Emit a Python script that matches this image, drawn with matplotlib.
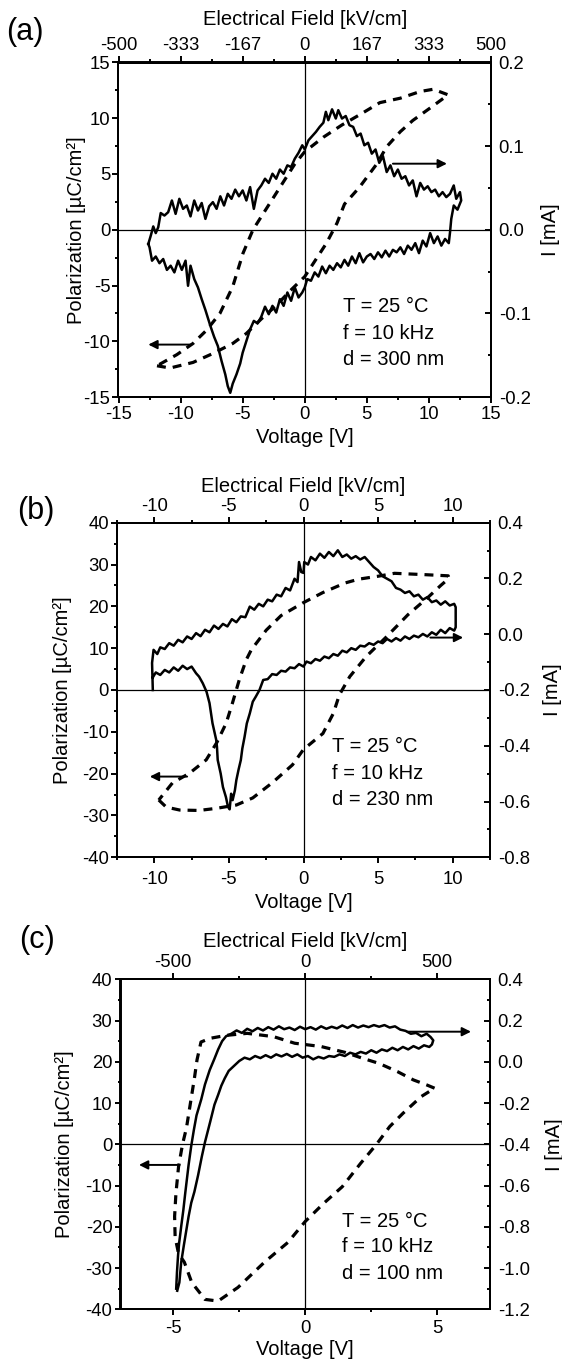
import matplotlib
matplotlib.use("Agg")
import matplotlib.pyplot as plt
from matplotlib.ticker import MultipleLocator, FixedLocator, FuncFormatter

plt.rcParams['font.family'] = ['Liberation Sans', 'DejaVu Sans']
plt.rcParams['axes.unicode_minus'] = False

FIG_W, FIG_H = 562, 1360

# ---------------- panel (a): d = 300 nm ----------------
A_P_V = [-11.9, -10.85, -9.0, -7.4, -5.8, -4.7, -3.5, -2.3, -1.2, 0.0,
         0.7, 1.75, 2.6, 3.2, 4.4, 5.8, 6.6, 7.7, 8.7, 10.2,
         11.55, 10.35, 9.3, 7.7, 6.05, 4.4, 3.0, 1.5, 0.0, -0.8,
         -2.0, -3.2, -4.17, -4.97, -5.8, -6.83, -7.9, -9.0, -10.3, -11.9]
A_P = [-12.2, -12.4, -11.9, -11.1, -10.2, -9.3, -8.0, -6.8, -5.5, -4.2,
       -3.0, -1.2, 0.6, 2.3, 3.8, 5.9, 7.45, 8.8, 9.8, 11.0,
       12.1, 12.6, 12.4, 11.8, 11.4, 10.3, 9.4, 8.3, 7.0, 5.9,
       3.8, 1.7, 0.0, -2.1, -5.1, -7.5, -9.0, -10.2, -11.2, -12.2]

A_I_V = [-12.6, -12.4, -12.2, -12.0, -11.8, -11.6, -11.3, -11.0, -10.7, -10.4,
         -10.1, -9.8, -9.5, -9.2, -8.9, -8.6, -8.3, -8.0, -7.7, -7.4,
         -7.1, -6.8, -6.5, -6.2, -5.9, -5.6, -5.3, -5.0, -4.7, -4.4,
         -4.1, -3.8, -3.5, -3.2, -2.9, -2.6, -2.3, -2.0, -1.7, -1.4,
         -1.1, -0.8, -0.5, -0.2, 0.0, 0.3, 0.6, 0.9, 1.2, 1.5,
         1.7, 1.9, 2.2, 2.5, 2.7, 3.0, 3.3, 3.6, 3.9, 4.2,
         4.5, 4.8, 5.1, 5.4, 5.7, 6.0, 6.3, 6.6, 6.9, 7.2,
         7.5, 7.8, 8.1, 8.4, 8.7, 9.0, 9.3, 9.6, 9.9, 10.2,
         10.5, 10.8, 11.1, 11.4, 11.7, 12.0, 12.2, 12.5, 12.6, 12.3,
         12.0, 11.8, 11.7, 11.6,
         11.3, 11.0, 10.7, 10.4, 10.1, 9.8, 9.5, 9.2, 8.9, 8.6,
         8.3, 8.0, 7.7, 7.4, 7.1, 6.8, 6.5, 6.2, 5.9, 5.6,
         5.3, 5.0, 4.7, 4.4, 4.1, 3.8, 3.5, 3.2, 2.9, 2.6,
         2.3, 2.0, 1.7, 1.4, 1.1, 0.8, 0.5, 0.2, 0.0, -0.2,
         -0.5, -0.8, -1.1, -1.4, -1.7, -2.0, -2.3, -2.6, -2.9, -3.2,
         -3.5, -3.8, -4.1, -4.4, -4.7, -5.0, -5.2, -5.5, -5.8, -6.0,
         -6.2, -6.4, -6.7, -7.0, -7.3, -7.6, -8.0, -8.3, -8.6, -8.9,
         -9.2, -9.4, -9.6, -9.9, -10.2, -10.5, -10.8, -11.1, -11.4, -11.7,
         -12.0, -12.3, -12.5, -12.6]
A_I = [-0.017, -0.007, 0.004, -0.004, 0.003, 0.020, 0.017, 0.021, 0.035, 0.019,
       0.037, 0.025, 0.029, 0.016, 0.035, 0.023, 0.032, 0.013, 0.028, 0.033,
       0.025, 0.040, 0.029, 0.043, 0.037, 0.048, 0.040, 0.047, 0.035, 0.051,
       0.025, 0.047, 0.053, 0.061, 0.056, 0.067, 0.061, 0.072, 0.067, 0.077,
       0.075, 0.085, 0.092, 0.101, 0.096, 0.107, 0.112, 0.117, 0.123, 0.128,
       0.141, 0.131, 0.144, 0.133, 0.143, 0.133, 0.136, 0.125, 0.123, 0.112,
       0.115, 0.101, 0.104, 0.091, 0.096, 0.080, 0.088, 0.069, 0.077, 0.064,
       0.072, 0.061, 0.064, 0.053, 0.059, 0.040, 0.056, 0.048, 0.052, 0.045,
       0.048, 0.040, 0.045, 0.039, 0.043, 0.053, 0.037, 0.045, 0.035, 0.024,
       0.029, 0.013, -0.003, -0.016,
       -0.011, -0.019, -0.008, -0.016, -0.004, -0.020, -0.013, -0.028, -0.016, -0.024,
       -0.019, -0.029, -0.021, -0.027, -0.024, -0.032, -0.025, -0.033, -0.027, -0.035,
       -0.029, -0.032, -0.039, -0.028, -0.040, -0.032, -0.043, -0.036, -0.045, -0.040,
       -0.048, -0.043, -0.052, -0.044, -0.056, -0.051, -0.061, -0.059, -0.069, -0.075,
       -0.081, -0.069, -0.085, -0.075, -0.091, -0.083, -0.099, -0.091, -0.101, -0.092,
       -0.104, -0.112, -0.109, -0.119, -0.133, -0.147, -0.160, -0.173, -0.184, -0.195,
       -0.187, -0.173, -0.157, -0.139, -0.128, -0.115, -0.096, -0.083, -0.069, -0.059,
       -0.043, -0.067, -0.037, -0.048, -0.037, -0.051, -0.043, -0.048, -0.035, -0.040,
       -0.032, -0.037, -0.021, -0.017]
A_TOP_POS = [-15, -10, -5, 0, 5, 10, 15]
A_TOP_LABELS = ['-500', '-333', '-167', '0', '167', '333', '500']

# ---------------- panel (b): d = 230 nm ----------------
B_P_V = [-9.7, -9.2, -8.3, -7.0, -5.85, -4.5, -3.4, -2.1, -0.74, 0.0,
         1.3, 2.0, 2.4, 3.1, 4.2, 5.5, 7.0, 8.3, 9.2, 9.75,
         9.7, 8.0, 6.1, 5.0, 3.7, 2.8, 1.3, 0.0, -1.5, -2.5,
         -3.5, -3.84, -4.3, -4.76, -5.18, -5.8, -6.52, -7.64, -8.78, -9.7]
B_P = [-26.3, -28.0, -28.7, -28.8, -28.3, -27.5, -25.8, -22.2, -17.9, -14.2,
       -10.4, -5.6, -1.2, 3.2, 8.0, 12.5, 18.0, 22.0, 25.0, 26.7,
       27.3, 27.6, 27.9, 27.2, 26.5, 25.6, 23.3, 20.9, 17.8, 14.3,
       9.6, 7.2, 2.5, -3.1, -7.9, -12.5, -16.7, -19.9, -22.2, -26.3]

B_I_V = [-10.1, -10.15, -10.05, -9.8, -9.6, -9.3, -9.0, -8.7, -8.4, -8.1,
         -7.8, -7.5, -7.2, -6.9, -6.6, -6.3, -6.0, -5.7, -5.4, -5.1,
         -4.8, -4.5, -4.2, -3.9, -3.6, -3.3, -3.0, -2.7, -2.4, -2.1,
         -1.8, -1.5, -1.2, -0.9, -0.6, -0.4, -0.3, -0.15, 0.0, 0.05,
         0.3, 0.5, 0.8, 1.1, 1.4, 1.7, 2.0, 2.3, 2.6, 2.9,
         3.2, 3.5, 3.8, 4.1, 4.4, 4.7, 5.0, 5.3, 5.6, 5.9,
         6.2, 6.5, 6.8, 7.1, 7.4, 7.7, 8.0, 8.3, 8.6, 8.9,
         9.2, 9.5, 9.8, 10.1, 10.2, 10.2, 10.1,
         9.8, 9.5, 9.2, 8.9, 8.6, 8.3, 8.0, 7.7, 7.4, 7.1,
         6.8, 6.5, 6.2, 5.9, 5.6, 5.3, 5.0, 4.7, 4.4, 4.1,
         3.8, 3.5, 3.2, 2.9, 2.6, 2.3, 2.0, 1.7, 1.4, 1.1,
         0.8, 0.5, 0.2, 0.0, -0.3, -0.6, -0.9, -1.2, -1.5, -1.8,
         -2.1, -2.4, -2.7, -2.95, -3.2, -3.4, -3.6, -3.8, -3.95, -4.1,
         -4.2, -4.35, -4.5, -4.6, -4.75, -4.85, -4.95, -5.06, -5.2, -5.4,
         -5.55, -5.75, -5.8, -5.85, -6.0, -6.1, -6.3, -6.5, -6.75, -7.0,
         -7.2, -7.5, -7.8, -8.1, -8.4, -8.7, -9.0, -9.3, -9.6, -9.9, -10.1]
B_I = [-0.200, -0.103, -0.056, -0.071, -0.047, -0.053, -0.032, -0.041, -0.020, -0.029,
       -0.008, -0.017, 0.004, -0.007, 0.016, 0.007, 0.031, 0.019, 0.037, 0.028,
       0.054, 0.043, 0.064, 0.061, 0.099, 0.088, 0.109, 0.100, 0.124, 0.118,
       0.142, 0.136, 0.166, 0.157, 0.199, 0.187, 0.259, 0.223, 0.220, 0.259,
       0.250, 0.277, 0.265, 0.289, 0.274, 0.295, 0.280, 0.301, 0.277, 0.286,
       0.271, 0.280, 0.268, 0.277, 0.259, 0.241, 0.229, 0.208, 0.199, 0.190,
       0.166, 0.160, 0.148, 0.154, 0.136, 0.142, 0.124, 0.133, 0.115, 0.121,
       0.106, 0.118, 0.103, 0.109, 0.097, 0.025, 0.013,
       0.022, 0.004, 0.016, -0.002, 0.007, -0.008, 0.001, -0.011, -0.005, -0.017,
       -0.008, -0.023, -0.014, -0.026, -0.017, -0.032, -0.026, -0.038, -0.032, -0.044,
       -0.041, -0.056, -0.050, -0.065, -0.059, -0.077, -0.071, -0.086, -0.080, -0.095,
       -0.089, -0.104, -0.098, -0.116, -0.107, -0.122, -0.119, -0.134, -0.131, -0.146,
       -0.143, -0.161, -0.164, -0.200, -0.224, -0.242, -0.284, -0.320, -0.368, -0.410,
       -0.451, -0.485, -0.523, -0.560, -0.595, -0.572, -0.628, -0.619, -0.584, -0.548,
       -0.500, -0.451, -0.404, -0.379, -0.344, -0.319, -0.247, -0.206, -0.176, -0.152,
       -0.140, -0.116, -0.125, -0.113, -0.131, -0.119, -0.137, -0.128, -0.146, -0.137, -0.155]
B_TOP_POS = [-10, -5, 0, 5, 10]
B_TOP_LABELS = ['-10', '-5', '0', '5', '10']

# ---------------- panel (c): d = 100 nm ----------------
C_P_V = [4.9, 4.6, 4.1, 3.5, 2.8, 2.2, 1.5, 0.6, -0.4, -1.2,
         -2.2, -3.0, -3.6, -3.95, -4.1, -4.2, -4.35, -4.5, -4.65, -4.8,
         -4.9, -4.95, -4.93, -4.8,
         -4.58, -4.3, -3.8, -3.3, -2.55, -1.55, -0.66, 0.0, 0.7, 1.4,
         2.1, 2.7, 3.2, 3.7, 4.4, 4.9]
C_P = [13.6, 14.4, 15.6, 17.6, 19.6, 20.8, 22.3, 23.7, 24.5, 26.1,
       26.9, 26.4, 25.7, 24.8, 20.5, 16.0, 10.0, 4.0, 0.0, -5.4,
       -11.9, -17.5, -22.5, -26.5,
       -28.6, -33.5, -37.6, -38.0, -34.7, -28.6, -23.8, -18.7, -14.3, -10.3,
       -4.6, 0.0, 4.3, 7.5, 11.6, 13.6]

C_I_V = [-4.89, -4.86, -4.82, -4.78, -4.74, -4.70, -4.62, -4.55, -4.50, -4.42,
         -4.32, -4.22, -4.12, -3.94, -3.80, -3.62, -3.45, -3.30, -3.15, -3.0,
         -2.8, -2.6, -2.4, -2.2, -2.0, -1.8, -1.6, -1.4, -1.2, -1.0,
         -0.8, -0.6, -0.4, -0.2, 0.0, 0.2, 0.4, 0.6, 0.8, 1.0,
         1.2, 1.4, 1.6, 1.8, 2.0, 2.2, 2.4, 2.6, 2.8, 3.0,
         3.2, 3.4, 3.6, 3.8, 4.0, 4.2, 4.4, 4.6, 4.75, 4.85,
         4.8, 4.7,
         4.5, 4.3, 4.1, 3.9, 3.7, 3.5, 3.3, 3.1, 2.9, 2.7,
         2.5, 2.3, 2.1, 1.9, 1.7, 1.5, 1.3, 1.1, 0.9, 0.7,
         0.5, 0.3, 0.1, -0.1, -0.3, -0.5, -0.7, -0.9, -1.1, -1.3,
         -1.5, -1.7, -1.9, -2.1, -2.3, -2.5, -2.7, -2.9, -3.05, -3.18,
         -3.3, -3.44, -3.6, -3.72, -3.8, -3.92, -4.06, -4.2, -4.32, -4.42,
         -4.5, -4.6, -4.7, -4.77, -4.85]
C_I = [-1.100, -1.020, -0.940, -0.880, -0.840, -0.798, -0.720, -0.640, -0.586, -0.500,
       -0.408, -0.330, -0.260, -0.182, -0.110, -0.040, 0.012, 0.060, 0.100, 0.124,
       0.136, 0.152, 0.140, 0.160, 0.148, 0.164, 0.152, 0.168, 0.156, 0.172,
       0.158, 0.166, 0.154, 0.170, 0.158, 0.168, 0.156, 0.172, 0.160, 0.170,
       0.162, 0.176, 0.164, 0.178, 0.166, 0.176, 0.168, 0.178, 0.170, 0.178,
       0.166, 0.172, 0.156, 0.150, 0.136, 0.140, 0.124, 0.136, 0.120, 0.104,
       0.084, 0.072,
       0.080, 0.064, 0.076, 0.060, 0.072, 0.056, 0.068, 0.052, 0.060, 0.044,
       0.056, 0.040, 0.048, 0.036, 0.044, 0.028, 0.036, 0.024, 0.028, 0.016,
       0.024, 0.012, 0.028, 0.020, 0.036, 0.024, 0.038, 0.026, 0.036, 0.020,
       0.032, 0.018, 0.028, 0.012, 0.020, 0.004, -0.020, -0.044, -0.080, -0.116,
       -0.160, -0.208, -0.290, -0.350, -0.390, -0.460, -0.550, -0.630, -0.684, -0.750,
       -0.812, -0.890, -0.972, -1.070, -1.110]
C_TOP_POS = [-5, 0, 5]
C_TOP_LABELS = ['-500', '0', '500']

NOTE_LINES = ['T = 25 °C', 'f = 10 kHz']

TICK_FS = 13.3
LABEL_FS = 14.5
LW_AX = 1.4


def fmt1(v, _pos):
    return f"{round(v, 1) + 0:.1f}"


def panel(box, tag, tag_xy, pv, p, iv, cur, xlim, xstep, ylim, ystep, ilim, istep,
          top_pos, top_labels, d_text, note_xy, larrow, rarrow, lab, xpad):
    # box = (left, top, right, bottom) in pixels of the 562x1360 canvas
    l, t, r, b = box
    ax = fig.add_axes([l / FIG_W, 1 - b / FIG_H, (r - l) / FIG_W, (b - t) / FIG_H])
    ax.set_xlim(*xlim)
    ax.set_ylim(*ylim)
    ax.axhline(0, color='k', lw=0.9, zorder=1)
    ax.axvline(0, color='k', lw=0.9, zorder=1)
    ax.plot(pv, p, color='k', lw=2.3, dashes=(2.8, 2.2), zorder=3)

    ax.xaxis.set_major_locator(MultipleLocator(xstep))
    ax.xaxis.set_minor_locator(MultipleLocator(xstep / 2))
    ax.yaxis.set_major_locator(MultipleLocator(ystep))
    ax.yaxis.set_minor_locator(MultipleLocator(ystep / 2))
    ax.tick_params(which='both', direction='out', top=False, right=False,
                   width=LW_AX, labelsize=TICK_FS)
    ax.tick_params(which='major', length=4.3)
    ax.tick_params(which='minor', length=2.2)
    ax.tick_params(axis='x', pad=xpad)
    ax.tick_params(axis='y', pad=1.5)
    for s in ax.spines.values():
        s.set_linewidth(LW_AX)

    sec = ax.secondary_xaxis('top')
    sec.xaxis.set_major_locator(FixedLocator(top_pos))
    sec.set_xticklabels(top_labels)
    sec.xaxis.set_minor_locator(MultipleLocator(xstep / 2))
    sec.tick_params(which='both', direction='out', width=LW_AX, labelsize=TICK_FS, pad=1.5)
    sec.tick_params(which='major', length=4.3)
    sec.tick_params(which='minor', length=2.2)
    sec.spines['top'].set_linewidth(LW_AX)
    sec.set_xlabel('Electrical Field [kV/cm]', fontsize=LABEL_FS)
    sec.xaxis.set_label_coords(0.5, lab[3], transform=ax.transAxes)

    ax2 = ax.twinx()
    ax2.set_ylim(*ilim)
    ax2.plot(iv, cur, color='k', lw=1.8, zorder=3)
    ax2.yaxis.set_major_locator(MultipleLocator(istep))
    ax2.yaxis.set_minor_locator(MultipleLocator(istep / 2))
    ax2.yaxis.set_major_formatter(FuncFormatter(fmt1))
    ax2.tick_params(which='both', direction='in', width=LW_AX, labelsize=TICK_FS, pad=5.5)
    ax2.tick_params(which='major', length=4.3)
    ax2.tick_params(which='minor', length=2.2)
    for s in ax2.spines.values():
        s.set_linewidth(LW_AX)

    ax.set_xlabel('Voltage [V]', fontsize=LABEL_FS)
    ax.set_ylabel('Polarization [µC/cm²]', fontsize=LABEL_FS)
    ax2.set_ylabel('I [mA]', fontsize=LABEL_FS)
    ax.xaxis.set_label_coords(0.5, lab[2], transform=ax.transAxes)
    ax.yaxis.set_label_coords(lab[0], 0.5, transform=ax.transAxes)
    ax2.yaxis.set_label_coords(lab[1], 0.5, transform=ax.transAxes)

    arrow = dict(arrowstyle='-|>', color='k', lw=1.4, mutation_scale=13,
                 shrinkA=0, shrinkB=0)
    ax.annotate('', xy=(larrow[1], larrow[2]), xytext=(larrow[0], larrow[2]),
                arrowprops=arrow, zorder=4)
    ax2.annotate('', xy=(rarrow[1], rarrow[2]), xytext=(rarrow[0], rarrow[2]),
                 arrowprops=arrow, zorder=4)

    for txt, yy in zip(NOTE_LINES + [d_text], note_xy[1]):
        ax.text(note_xy[0], yy, txt, fontsize=LABEL_FS, va='center', ha='left')

    fig.text(tag_xy[0] / FIG_W, 1 - tag_xy[1] / FIG_H, tag, fontsize=22,
             ha='left', va='center')
    return ax, ax2


fig = plt.figure(figsize=(FIG_W / 100, FIG_H / 100), dpi=100)

panel((118.5, 62.5, 491, 397), '(a)', (6, 32),
      A_P_V, A_P, A_I_V, A_I, (-15, 15), 5, (-15, 15), 5, (-0.2, 0.2), 0.1,
      A_TOP_POS, A_TOP_LABELS, 'd = 300 nm', (3.06, [-6.9, -9.3, -11.6]),
      (-9.2, -12.6, -10.3), (7.1, 11.45, 0.079),
      (-0.087, 1.134, -0.093, 1.112), 2.5)

panel((117, 522.7, 490, 857.3), '(b)', (17, 511),
      B_P_V, B_P, B_I_V, B_I, (-12.5, 12.5), 5, (-40, 40), 10, (-0.8, 0.4), 0.2,
      B_TOP_POS, B_TOP_LABELS, 'd = 230 nm', (1.9, [-13.5, -19.9, -26.3]),
      (-7.8, -10.3, -20.7), (8.5, 10.7, -0.012),
      (-0.121, 1.142, -0.108, 1.093), 5.5)

panel((120.5, 979.3, 490, 1309.3), '(c)', (19, 940),
      C_P_V, C_P, C_I_V, C_I, (-7, 7), 5, (-40, 40), 10, (-1.2, 0.4), 0.2,
      C_TOP_POS, C_TOP_LABELS, 'd = 100 nm', (1.4, [-18.7, -24.8, -31.3]),
      (-4.76, -6.3, -5.0), (3.87, 6.28, 0.146),
      (-0.126, 1.149, -0.092, 1.099), 3.5)

fig.savefig('out.png', dpi=100)
plt.close(fig)
